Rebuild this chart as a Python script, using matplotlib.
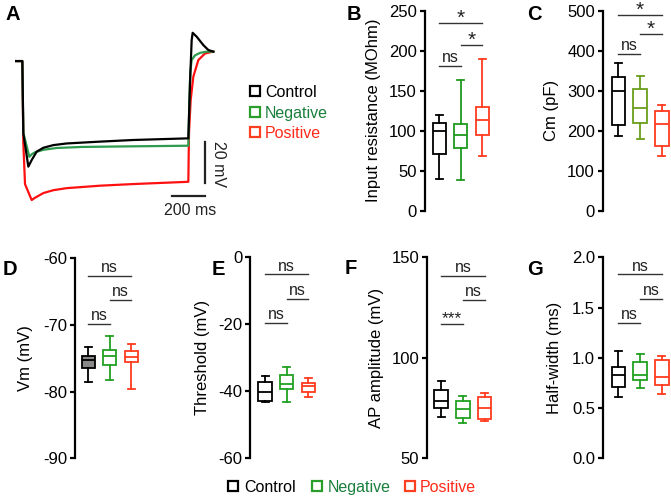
import matplotlib
matplotlib.use('Agg')
import matplotlib.pyplot as plt
from matplotlib.lines import Line2D

plt.rcParams['font.family'] = ['Liberation Sans', 'DejaVu Sans']
plt.rcParams['axes.unicode_minus'] = False
plt.rcParams['font.size'] = 12

# ---------------- data ----------------
groups = ['Control', 'Negative', 'Positive']

# Panel A voltage traces (time ms, deltaV mV)
t_control = [0, 44, 50, 80, 100, 130, 170, 230, 310, 510, 710, 1040, 1050, 1060, 1066, 1090, 1130, 1160, 1190]
v_control = [0, 0, -35.3, -51.5, -48.3, -44.2, -42.3, -41.0, -40.2, -39.3, -38.5, -37.7, -10.9, 10.2, 13.8, 11.9, 7.8, 5.4, 4.6]
t_negative = [0, 44, 50, 86, 100, 120, 170, 250, 400, 700, 1040, 1046, 1052, 1060, 1080, 1110, 1150, 1190]
v_negative = [0, 0, -35.0, -46.7, -45.5, -44.5, -43.3, -42.4, -41.9, -41.6, -41.3, -20.0, -5.0, 0.5, 2.8, 4.0, 4.6, 4.6]
t_positive = [0, 44, 50, 60, 100, 120, 170, 230, 310, 510, 710, 1040, 1044, 1054, 1070, 1100, 1140, 1190]
v_positive = [0, 0, -40.0, -60.0, -67.8, -66.7, -64.4, -63.0, -62.0, -60.8, -60.0, -58.9, -35.0, -19.0, -7.6, 0.5, 3.7, 4.6]

# Box statistics per panel: whisker low, Q1, median, Q3, whisker high (Control, Negative, Positive)
rin_whislo = [40, 38, 68]
rin_q1 = [71, 78, 95]
rin_med = [99.5, 94, 113]
rin_q3 = [110, 108, 130]
rin_whishi = [120, 163, 190]

cm_whislo = [186, 179, 136]
cm_q1 = [213, 218, 162]
cm_med = [299, 257, 216]
cm_q3 = [334, 305, 250]
cm_whishi = [369, 336, 263]

vm_whislo = [-78.6, -78.25, -79.65]
vm_q1 = [-76.5, -76.0, -75.6]
vm_med = [-75.25, -74.65, -74.85]
vm_q3 = [-74.65, -73.75, -73.9]
vm_whishi = [-73.35, -71.6, -72.85]

thr_whislo = [-43.1, -43.1, -41.6]
thr_q1 = [-42.8, -39.3, -40.3]
thr_med = [-40.3, -37.8, -38.3]
thr_q3 = [-37.1, -35.0, -37.5]
thr_whishi = [-35.5, -32.8, -36.0]

amp_whislo = [70.6, 67.6, 68.6]
amp_q1 = [74.8, 70.1, 69.8]
amp_med = [78.6, 74.3, 75.2]
amp_q3 = [84.2, 78.6, 80.6]
amp_whishi = [88.5, 81.1, 82.6]

hw_whislo = [0.614, 0.70, 0.637]
hw_q1 = [0.713, 0.78, 0.73]
hw_med = [0.829, 0.83, 0.81]
hw_q3 = [0.912, 0.962, 0.978]
hw_whishi = [1.07, 1.04, 1.018]

# significance annotations: (group i, group j, height, label)
rin_sig = [(1, 3, 234, '*'), (2, 3, 207, '*'), (1, 2, 181, 'ns')]
cm_sig = [(1, 3, 489, '*'), (2, 3, 441, '*'), (1, 2, 392, 'ns')]
vm_sig = [(1, 3, -62.6, 'ns'), (2, 3, -66.25, 'ns'), (1, 2, -69.85, 'ns')]
thr_sig = [(1, 3, -5.1, 'ns'), (2, 3, -12.3, 'ns'), (1, 2, -19.6, 'ns')]
amp_sig = [(1, 3, 140.9, 'ns'), (2, 3, 128.7, 'ns'), (1, 2, 116.8, '***')]
hw_sig = [(1, 3, 1.83, 'ns'), (2, 3, 1.59, 'ns'), (1, 2, 1.35, 'ns')]

rin_ticks = [0, 50, 100, 150, 200, 250]
cm_ticks = [0, 100, 200, 300, 400, 500]
vm_ticks = [-90, -80, -70, -60]
thr_ticks = [-60, -40, -20, 0]
amp_ticks = [50, 100, 150]
hw_ticks = [0.0, 0.5, 1.0, 1.5, 2.0]
hw_ticklabels = ['0.0', '0.5', '1.0', '1.5', '2.0']

# ---------------- style ----------------
W, H = 671, 497
fig = plt.figure(figsize=(W / 100, H / 100), dpi=100)

def rect(left, top, width, bottom):
    return [left / W, 1 - bottom / H, width / W, (bottom - top) / H]

RED = '#ff3b1f'
GREEN = '#22a022'
trace_colors = ['#000000', '#2e9b4e', '#ff1010']
legend_sq = ['#000000', '#2a9e2a', '#ff4020']
legend_txt = ['#000000', '#1a7f3c', '#ff2a1a']
FS = 12

# ---------------- Panel A ----------------
axA = fig.add_axes(rect(15, 25, 210, 215))
axA.set_xlim(0, 1260)
axA.set_ylim(-75.1, 17.6)
axA.axis('off')
axA.plot(t_positive, v_positive, color=trace_colors[2], lw=1.6, solid_joinstyle='round')
axA.plot(t_negative, v_negative, color=trace_colors[1], lw=1.6, solid_joinstyle='round')
axA.plot(t_control, v_control, color=trace_colors[0], lw=1.6, solid_joinstyle='round')
axA.plot([1140, 1140], [-39.3, -59.3], color='#222222', lw=1.6, clip_on=False)
axA.plot([940, 1140], [-65.9, -65.9], color='#222222', lw=1.6, clip_on=False)
axA.text(1222, -50.2, '20 mV', rotation=270, ha='center', va='center', fontsize=11.5, color='#222222', clip_on=False)
axA.text(1050, -73.0, '200 ms', ha='center', va='center', fontsize=11.5, color='#222222', clip_on=False)

for i, (g, yy) in enumerate(zip(groups, [91, 112, 132])):
    fig.add_artist(Line2D([255 / W], [1 - yy / H], marker='s', markersize=6.5, markerfacecolor='none',
                          markeredgecolor=legend_sq[i], markeredgewidth=1.6, transform=fig.transFigure))
    fig.text(265 / W, 1 - yy / H, g, color=legend_txt[i], fontsize=11.5, ha='left', va='center_baseline')

# ---------------- box panels ----------------
def box_panel(left, top, bottom, spacing, x0, x1, whislo, q1, med, q3, whishi, colors,
              ylim, ticks, ticklabels, ylabel, label_right, sigs, fill0=None):
    width = (x1 - x0) * spacing
    ax = fig.add_axes(rect(left, top, width, bottom))
    for i in range(3):
        st = dict(whislo=whislo[i], q1=q1[i], med=med[i], q3=q3[i], whishi=whishi[i], fliers=[])
        c = colors[i]
        fc = fill0 if (i == 0 and fill0) else 'none'
        ax.bxp([st], positions=[i + 1], widths=0.62, capwidths=0.32, patch_artist=True, showfliers=False,
               boxprops=dict(edgecolor=c, facecolor=fc, linewidth=1.3),
               medianprops=dict(color=c, linewidth=1.3),
               whiskerprops=dict(color=c, linewidth=1.3),
               capprops=dict(color=c, linewidth=1.3), manage_ticks=False)
    ax.set_xlim(x0, x1)
    ax.set_ylim(*ylim)
    ax.set_yticks(ticks)
    ax.set_yticklabels(ticklabels)
    for s in ['top', 'right', 'bottom']:
        ax.spines[s].set_visible(False)
    ax.spines['left'].set_linewidth(1.6)
    ax.tick_params(axis='y', length=3.8, width=1.6, pad=2, labelsize=FS)
    ax.set_xticks([])
    ax.patch.set_visible(False)
    ax.set_ylabel(ylabel, fontsize=FS)
    ax.yaxis.set_label_coords((label_right - left) / width, 0.5)
    for a, b, y, txt in sigs:
        ax.plot([a, b], [y, y], color='#333333', lw=1.0, clip_on=False)
        if txt == '*':
            ax.annotate(txt, xy=((a + b) / 2, y), xytext=(0, -0.5), textcoords='offset points',
                        ha='center', va='baseline', fontsize=15, color='#222222', annotation_clip=False)
        elif txt.startswith('*'):
            ax.annotate(txt, xy=((a + b) / 2, y), xytext=(0, 0.3), textcoords='offset points',
                        ha='center', va='baseline', fontsize=12.5, color='#222222', annotation_clip=False)
        else:
            ax.annotate(txt, xy=((a + b) / 2, y), xytext=(0, 0.5), textcoords='offset points',
                        ha='center', va='bottom', fontsize=11.5, color='#222222', annotation_clip=False)
    return ax

box_panel(425, 10.7, 210.7, 21.4, 0.33, 3.5, rin_whislo, rin_q1, rin_med, rin_q3, rin_whishi,
          ['#000000', '#1f9a1f', RED], (0, 250), rin_ticks, [str(t) for t in rin_ticks],
          'Input resistance (MOhm)', 381, rin_sig)
box_panel(603, 10.7, 210.7, 21.8, 0.30, 3.4, cm_whislo, cm_q1, cm_med, cm_q3, cm_whishi,
          ['#000000', '#6a9e1c', RED], (0, 500), cm_ticks, [str(t) for t in cm_ticks],
          'Cm (pF)', 559, cm_sig)
box_panel(75, 258.3, 458.3, 21.5, 0.38, 3.5, vm_whislo, vm_q1, vm_med, vm_q3, vm_whishi,
          ['#000000', GREEN, RED], (-90, -60), vm_ticks, [str(t) for t in vm_ticks],
          'Vm (mV)', 33, vm_sig, fill0='#8a8a8a')
box_panel(250.3, 257.3, 458.3, 21.7, 0.32, 3.5, thr_whislo, thr_q1, thr_med, thr_q3, thr_whishi,
          ['#000000', GREEN, RED], (-60, 0), thr_ticks, [str(t) for t in thr_ticks],
          'Threshold (mV)', 210, thr_sig)
box_panel(427.3, 257.3, 458.3, 21.7, 0.36, 3.5, amp_whislo, amp_q1, amp_med, amp_q3, amp_whishi,
          ['#000000', GREEN, RED], (50, 150), amp_ticks, [str(t) for t in amp_ticks],
          'AP amplitude (mV)', 384, amp_sig)
box_panel(603, 257.3, 458.3, 21.8, 0.30, 3.4, hw_whislo, hw_q1, hw_med, hw_q3, hw_whishi,
          ['#000000', GREEN, RED], (0, 2.0), hw_ticks, hw_ticklabels,
          'Half-width (ms)', 562, hw_sig)

# panel letters
for letter, x, y in [('A', 5, 20), ('B', 347, 20), ('C', 527, 20), ('D', 3, 275),
                     ('E', 212, 275), ('F', 345, 274), ('G', 527, 275)]:
    fig.text(x / W, 1 - y / H, letter, fontsize=14.5, fontweight='bold', ha='left', va='baseline')

# bottom legend
for i, (g, sx, tx) in enumerate(zip(groups, [233, 317, 410], [244, 328, 420])):
    fig.add_artist(Line2D([sx / W], [1 - 486 / H], marker='s', markersize=6.5, markerfacecolor='none',
                          markeredgecolor=legend_sq[i], markeredgewidth=1.6, transform=fig.transFigure))
    fig.text(tx / W, 1 - 486 / H, g, color=legend_txt[i], fontsize=11.5, ha='left', va='center_baseline')

fig.savefig('out.png', dpi=100)
